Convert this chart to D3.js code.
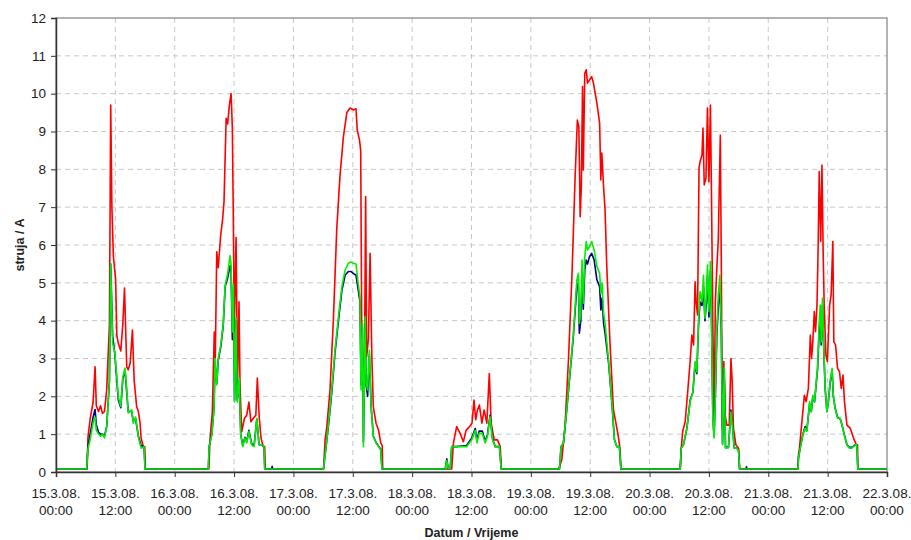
<!DOCTYPE html>
<html>
<head>
<meta charset="utf-8">
<script src="https://cdn.jsdelivr.net/npm/d3@7"></script>
<style>
  body { margin: 0; background: #fff; }
  svg { font-family: Arial, "Liberation Sans", sans-serif; display: block; }
</style>
</head>
<body>
<div id="chart"></div>
<script>
// x axis: hours since 15.3.08. 00:00
const tickHours = [0, 12, 24, 36, 48, 60, 72, 84, 96, 108, 120, 132, 144, 156, 168];
const tickDates = ['15.3.08.', '15.3.08.', '16.3.08.', '16.3.08.', '17.3.08.', '17.3.08.', '18.3.08.', '18.3.08.',
  '19.3.08.', '19.3.08.', '20.3.08.', '20.3.08.', '21.3.08.', '21.3.08.', '22.3.08.'];
const tickTimes = ['00:00', '12:00', '00:00', '12:00', '00:00', '12:00', '00:00', '12:00',
  '00:00', '12:00', '00:00', '12:00', '00:00', '12:00', '00:00'];
const yTicks = [0, 1, 2, 3, 4, 5, 6, 7, 8, 9, 10, 11, 12];

// [sat, struja A]
const red = [
  [0, .08], [6.3, .08], [6.45, .9], [6.9, 1.4], [7.5, 1.85], [7.9, 2.78], [8.15, 1.75], [8.6, 1.6], [9, 1.75], [9.4, 1.55],
  [9.8, 1.6], [10.25, 2.17], [10.8, 3.9], [11.06, 9.7], [11.3, 7], [11.6, 5.7], [12.05, 5.1], [12.3, 3.6], [12.6, 3.4],
  [13.1, 3.2], [13.5, 3.9], [13.85, 4.86], [14.3, 2.78], [14.6, 2.7], [15, 2.88], [15.45, 3.75], [15.8, 2.43], [16.3, 1.73],
  [16.65, 1.6], [17, 1.29], [17.2, .9], [17.65, .67], [17.95, .67], [18.05, .08],
  [30.9, .08], [31.15, .9], [31.6, 1.58], [32, 3.7], [32.2, 3], [32.5, 5.82], [32.8, 5.4], [33.3, 6.27], [33.7, 6.7],
  [33.97, 7.15], [34.4, 9.35], [34.7, 9.2], [35.05, 9.7], [35.4, 10], [35.65, 9.1], [35.85, 6.7], [36.05, 3.7], [36.4, 6.2],
  [36.7, 2.3], [37, 4.5], [37.2, 2.3], [37.55, 1.07], [38.1, 1.42], [38.55, 1.5], [39, 1.85], [39.4, 1.33], [39.9, 1.42],
  [40.4, 1.5], [40.7, 2.48], [41.1, 1.42], [41.45, .9], [41.9, .67], [42.2, .67], [42.3, .08],
  [54.1, .08], [54.4, .85], [54.75, 1.2], [55.4, 2.17], [56.1, 4.1], [56.75, 6.4], [57.4, 7.8], [58.1, 8.86], [58.8, 9.5],
  [59.45, 9.62], [60.1, 9.57], [60.65, 9.6], [60.9, 9.04], [61.35, 8.78], [61.6, 8.5], [61.8, 3.93], [62, 2.6], [62.3, 1.73],
  [62.6, 7.28], [62.8, 3.05], [63.15, 3.5], [63.5, 5.78], [63.85, 3.05], [64.15, 1.73], [64.7, 1.29], [65.2, 1.11],
  [65.65, .77], [65.95, .7], [66.05, .08],
  [80, .08], [80.35, .77], [81, 1.2], [81.7, 1.02], [82.35, .8], [82.9, 1.1], [83.6, 1.2], [84.1, 1.29], [84.5, 1.9],
  [84.85, 1.38], [85.2, 1.64], [85.6, 1.77], [86.1, 1.29], [86.55, 1.64], [87.1, 1.29], [87.6, 2.6], [87.97, 1.29],
  [88.6, .85], [89.25, .85], [89.8, .67], [90.05, .08],
  [101.6, .08], [102.25, .32], [102.9, 1.2], [103.6, 2.96], [104.3, 5.16], [104.95, 7.8], [105.4, 9.3], [105.7, 9.13],
  [105.97, 6.75], [106.2, 7.54], [106.45, 10.19], [106.6, 7.98], [106.9, 10.54], [107.2, 10.63], [107.45, 10.28],
  [107.85, 10.36], [108.3, 10.45], [108.65, 10.28], [109.35, 9.75], [109.9, 9.22], [110.15, 7.72], [110.35, 8.43],
  [110.7, 7.54], [111, 6.93], [111.35, 5.43], [112, 3.4], [112.7, 1.64], [113.2, 1.29], [113.7, .93], [114.05, .58], [114.2, .08],
  [126.2, .08], [126.4, .63], [126.7, 1.07], [127.2, 1.33], [127.65, 2.03], [128.2, 2.92], [128.55, 3.62], [128.9, 3.36],
  [129.2, 5.03], [129.4, 4.5], [129.7, 4.15], [130, 8.04], [130.2, 8.2], [130.6, 8.38], [130.8, 9.09], [131.05, 7.59],
  [131.4, 7.77], [131.7, 9.62], [132, 7.67], [132.3, 9.7], [132.5, 7.5], [132.8, 3.8], [133.05, 1.5], [133.3, 4.5],
  [133.6, 5.39], [133.9, 6.18], [134.3, 8.9], [134.5, 5.56], [134.7, 1.16], [135, 2.92], [135.3, 1.5], [135.6, 1.24],
  [136.1, 1.24], [136.45, 3], [136.7, 2.39], [136.95, 1.16], [137.45, .72], [138, .63], [138.2, .08],
  [150, .08], [150.1, .45], [150.3, .63], [150.8, 1.33], [151.3, 2.03], [151.65, 1.86], [152.1, 2.21], [152.5, 3.62],
  [152.75, 3], [153, 3.44], [153.3, 4.24], [153.55, 3.71], [153.85, 4.41], [154.1, 6.09], [154.3, 7.94], [154.6, 6.09],
  [154.85, 8.11], [155.1, 5.74], [155.3, 4.41], [155.65, 3.09], [155.95, 2.92], [156.4, 4.41], [156.7, 4.68], [157.05, 6.09],
  [157.25, 3.44], [157.6, 3.36], [158, 2.74], [158.4, 2.65], [158.75, 2.21], [159.1, 2.56], [159.4, 1.86], [159.9, 1.24],
  [160.55, 1.16], [161.25, .89], [161.8, .72], [162.05, .72], [162.1, .08], [168, .08]
];

const green = [
  [0, .08], [6.2, .08], [6.45, .6], [6.9, .85], [7.5, 1.3], [7.9, 1.45], [8.15, 1.1], [8.6, 1], [9, .95], [9.4, 1], [9.8, .9],
  [10.25, 1.2], [10.8, 2.4], [11.05, 5.5], [11.45, 3.4], [11.9, 3.15], [12.6, 1.98], [13.1, 1.73], [13.5, 2.5], [13.95, 2.75],
  [14.3, 2.17], [14.6, 1.56], [15.3, 1.64], [15.6, 1.29], [16.1, 1.45], [16.65, .93], [17.2, .63], [17.8, .67], [18, .08],
  [30.8, .08], [30.95, .67], [31.5, .98], [31.95, 1.68], [32.15, 3], [32.5, 2.3], [32.8, 3], [33.3, 3.35], [33.8, 3.9],
  [34.2, 4.95], [34.65, 5.2], [35.2, 5.72], [35.4, 5.47], [35.65, 3.7], [35.85, 4.95], [36.1, 1.85], [36.4, 4.07],
  [36.65, 1.85], [37.05, 2.48], [37.35, .98], [37.75, .67], [38.2, .9], [38.55, .77], [39, 1.07], [39.55, .72], [40.05, .67],
  [40.6, 1.42], [41.05, .72], [41.6, .72], [42.05, .67], [42.2, .08],
  [54.07, .08], [54.6, .67], [55.1, 1.29], [55.75, 2.17], [56.4, 3.22], [57.1, 4.1], [57.8, 4.9], [58.45, 5.34], [59.1, 5.52],
  [59.6, 5.55], [60.1, 5.52], [60.65, 5.5], [61, 5.08], [61.45, 4.63], [61.67, 2.17], [61.94, 3.93], [62.15, .67], [62.5, 4.1],
  [62.7, 2.35], [63, 2.17], [63.35, 3.22], [63.7, 1.73], [64.15, .93], [64.7, .77], [65.2, .67], [65.65, .58], [65.9, .08],
  [78.7, .08], [79, .3], [79.3, .08], [79.7, .1], [80, .67], [81, .67], [83, .67], [84.05, .85], [84.75, 1.1], [85.1, .77],
  [85.55, 1.02], [86.2, 1.02], [86.75, .77], [87.2, .93], [87.75, 1.46], [88.25, .85], [88.8, .67], [89.65, .67], [90, .08],
  [101.8, .08], [102.1, .67], [102.6, .77], [103.3, 1.73], [103.95, 2.7], [104.6, 3.67], [105.3, 5.08], [105.6, 5.25],
  [105.8, 3.93], [106.1, 4.2], [106.35, 5.6], [106.6, 4.46], [106.9, 5.69], [107.2, 6.09], [107.45, 5.87], [107.85, 5.96],
  [108.3, 6.09], [108.8, 5.87], [109.35, 5.43], [109.9, 5.25], [110.15, 4.72], [110.4, 5], [110.7, 4.2], [111, 3.93],
  [111.7, 2.96], [112.4, 1.82], [112.9, .85], [113.4, .67], [113.9, .67], [114.2, .08],
  [126.2, .08], [126.4, .63], [126.85, .72], [127.55, 1.16], [128.2, 1.86], [128.75, 2.12], [129.2, 2.92], [129.55, 2.65],
  [129.9, 3.97], [130.2, 4.77], [130.6, 4.5], [130.9, 5.2], [131.2, 4.06], [131.5, 4.68], [131.7, 5.47], [132, 4.24],
  [132.3, 5.56], [132.5, 4.24], [132.8, 1.33], [133.05, .9], [133.3, 2.03], [133.6, 3.8], [133.9, 4.68], [134.2, 5.2],
  [134.5, 3.8], [134.75, .72], [135.1, 2.75], [135.35, .63], [135.95, .65], [136.45, 1.59], [136.8, 1.16], [137.1, .63],
  [137.65, .63], [138, .55], [138.2, .08],
  [150, .08], [150.1, .37], [150.45, .63], [151, .98], [151.45, 1.16], [151.8, 1.07], [152.35, 1.86], [152.7, 1.59], [153, 2.03],
  [153.35, 1.86], [153.7, 2.39], [153.95, 2.74], [154.25, 3.8], [154.5, 4.41], [154.7, 3.44], [154.95, 4.59], [155.15, 3.54],
  [155.5, 2.21], [155.85, 1.59], [156.15, 1.86], [156.5, 2.39], [156.9, 2.74], [157.15, 2.03], [157.5, 1.68], [158, 1.42],
  [158.55, 1.42], [158.9, 1.24], [159.35, .98], [159.9, .72], [160.4, .63], [160.9, .63], [161.6, .72], [161.9, .72],
  [162.1, .08], [168, .08]
];

const blue = [
  [0, .08], [6.2, .08], [6.45, .65], [6.9, 1], [7.5, 1.45], [7.9, 1.65], [8.15, 1.25], [8.6, 1.05], [9, 1], [9.4, 1], [9.8, .95],
  [10.25, 1.2], [10.8, 2.4], [11.05, 5.5], [11.45, 3.6], [11.9, 3.1], [12.6, 1.9], [13.1, 1.7], [13.5, 2.45], [13.95, 2.7],
  [14.3, 2.1], [14.6, 1.6], [15.3, 1.6], [15.6, 1.35], [16.1, 1.4], [16.65, .95], [17.2, .7], [17.8, .67], [18, .08],
  [30.8, .08], [30.95, .67], [31.5, 1], [31.95, 1.7], [32.15, 2.9], [32.5, 2.35], [32.8, 2.95], [33.3, 3.3], [33.8, 3.85],
  [34.2, 4.9], [34.65, 5.1], [35.2, 5.45], [35.4, 5.3], [35.65, 3.5], [35.85, 4.8], [36.1, 1.9], [36.4, 4], [36.65, 1.9],
  [37.05, 2.4], [37.35, 1], [37.75, .7], [38.2, .92], [38.55, .8], [39, 1.1], [39.55, .75], [40.05, .7], [40.6, 1.4],
  [41.05, .72], [41.6, .72], [42.05, .67], [42.2, .08], [43.6, .08], [43.7, .15], [43.8, .08],
  [54.07, .08], [54.6, .67], [55.1, 1.25], [55.75, 2.1], [56.4, 3.15], [57.1, 4], [57.8, 4.8], [58.45, 5.2], [59.1, 5.3],
  [59.6, 5.3], [60.1, 5.25], [60.65, 5.2], [61, 4.9], [61.45, 4.5], [61.67, 2.3], [61.94, 3.8], [62.15, .8], [62.5, 3.9],
  [62.7, 2.3], [63, 2], [63.35, 3.1], [63.7, 1.75], [64.15, .95], [64.7, .78], [65.2, .68], [65.65, .6], [65.9, .08],
  [78.7, .08], [79, .35], [79.3, .08], [79.7, .1], [80, .67], [81, .67], [83, .7], [84.05, .9], [84.75, 1.15], [85.1, .85],
  [85.55, 1.08], [86.2, 1.08], [86.75, .82], [87.2, .97], [87.75, 1.5], [88.25, .88], [88.8, .67], [89.65, .67], [90, .08],
  [101.8, .08], [102.1, .67], [102.6, .77], [103.3, 1.7], [103.95, 2.65], [104.6, 3.6], [105.3, 4.9], [105.6, 5],
  [105.8, 3.67], [106.1, 4], [106.35, 5.2], [106.6, 4.3], [106.9, 5.34], [107.2, 5.6], [107.45, 5.5], [107.85, 5.69],
  [108.3, 5.78], [108.8, 5.6], [109.35, 5.08], [109.9, 4.9], [110.15, 4.28], [110.4, 4.6], [110.7, 3.93], [111, 3.67],
  [111.7, 2.9], [112.4, 1.8], [112.9, .85], [113.4, .67], [113.9, .67], [114.2, .08],
  [126.2, .08], [126.4, .63], [126.85, .72], [127.55, 1.16], [128.2, 1.9], [128.75, 2.1], [129.2, 2.85], [129.55, 2.6],
  [129.9, 3.9], [130.2, 4.5], [130.6, 4.4], [130.9, 4.9], [131.2, 4], [131.5, 4.5], [131.7, 5.2], [132, 4.1], [132.3, 5.3],
  [132.5, 4.2], [132.8, 1.4], [133.05, .95], [133.3, 2], [133.6, 3.6], [133.9, 4.4], [134.2, 4.9], [134.5, 3.7], [134.75, .75],
  [135.1, 2.7], [135.35, .65], [135.95, .65], [136.45, 1.64], [136.8, 1.2], [137.1, .63], [137.65, .63], [138, .55],
  [138.2, .08], [139.5, .08], [139.6, .14], [139.7, .08],
  [150, .08], [150.1, .37], [150.45, .63], [151, 1], [151.45, 1.2], [151.8, 1.1], [152.35, 1.8], [152.7, 1.6], [153, 2],
  [153.35, 1.85], [153.7, 2.35], [153.95, 2.7], [154.25, 3.6], [154.5, 4.2], [154.7, 3.36], [154.95, 4.4], [155.15, 3.5],
  [155.5, 2.2], [155.85, 1.6], [156.15, 1.85], [156.5, 2.35], [156.9, 2.7], [157.15, 2], [157.5, 1.7], [158, 1.45],
  [158.55, 1.4], [158.9, 1.25], [159.35, 1], [159.9, .72], [160.4, .65], [160.9, .65], [161.6, .72], [161.9, .72],
  [162.1, .08], [168, .08]
];

const width = 911;
const height = 540;
const plot = { left: 56, right: 887, top: 18, bottom: 472 };

const svg = d3.select('#chart').append('svg')
  .attr('width', width)
  .attr('height', height);

const x = d3.scaleLinear().domain([0, 168]).range([plot.left, plot.right]);
const y = d3.scaleLinear().domain([0, 12]).range([plot.bottom, plot.top]);

// mreža
svg.append('g')
  .selectAll('line')
  .data(yTicks.slice(1, -1))
  .join('line')
  .attr('x1', plot.left).attr('x2', plot.right)
  .attr('y1', d => y(d)).attr('y2', d => y(d))
  .attr('stroke', '#c8c8c8')
  .attr('stroke-dasharray', '5,4');

svg.append('g')
  .selectAll('line')
  .data(tickHours.slice(1, -1))
  .join('line')
  .attr('x1', d => x(d)).attr('x2', d => x(d))
  .attr('y1', plot.top).attr('y2', plot.bottom)
  .attr('stroke', '#c8c8c8')
  .attr('stroke-dasharray', '5,4');

// okvir
svg.append('rect')
  .attr('x', plot.left).attr('y', plot.top)
  .attr('width', plot.right - plot.left)
  .attr('height', plot.bottom - plot.top)
  .attr('fill', 'none')
  .attr('stroke', '#808080')
  .attr('stroke-width', 1.2);

// linije
const line = d3.line()
  .x(d => x(d[0]))
  .y(d => y(d[1]));

[[red, '#ff0000'], [blue, '#000080'], [green, '#00ee00']].forEach(([data, color]) => {
  svg.append('path')
    .datum(data)
    .attr('fill', 'none')
    .attr('stroke', color)
    .attr('stroke-width', 1.6)
    .attr('stroke-linejoin', 'round')
    .attr('d', line);
});

// osi
const axisY = d3.axisLeft(y).tickValues(yTicks).tickSize(5).tickPadding(5).tickFormat(d3.format('d'));
const gy = svg.append('g')
  .attr('transform', 'translate(' + plot.left + ',0)')
  .call(axisY);

const axisX = d3.axisBottom(x).tickValues(tickHours).tickSize(5).tickFormat('');
const gx = svg.append('g')
  .attr('transform', 'translate(0,' + plot.bottom + ')')
  .call(axisX);

[gx, gy].forEach(g => {
  g.select('.domain').attr('stroke', '#333').attr('stroke-width', 1.5);
  g.selectAll('.tick line').attr('stroke', '#333');
});
gy.selectAll('text').attr('font-size', 13.5).attr('fill', '#222').attr('font-family', 'Arial, "Liberation Sans", sans-serif');

const xLabels = svg.append('g')
  .selectAll('text')
  .data(tickHours)
  .join('text')
  .attr('x', d => x(d))
  .attr('y', 498)
  .attr('text-anchor', 'middle')
  .attr('font-size', 13.5)
  .attr('fill', '#222');
xLabels.append('tspan').attr('x', d => x(d)).text((d, i) => tickDates[i]);
xLabels.append('tspan').attr('x', d => x(d)).attr('dy', 17).text((d, i) => tickTimes[i]);

// naslovi osi
svg.append('text')
  .attr('x', (plot.left + plot.right) / 2)
  .attr('y', 537)
  .attr('text-anchor', 'middle')
  .attr('font-size', 12.5)
  .attr('font-weight', 'bold')
  .attr('fill', '#222')
  .text('Datum / Vrijeme');

svg.append('text')
  .attr('transform', 'translate(24,' + ((plot.top + plot.bottom) / 2) + ') rotate(-90)')
  .attr('text-anchor', 'middle')
  .attr('font-size', 12.5)
  .attr('font-weight', 'bold')
  .attr('fill', '#222')
  .text('struja / A');
</script>
</body>
</html>
